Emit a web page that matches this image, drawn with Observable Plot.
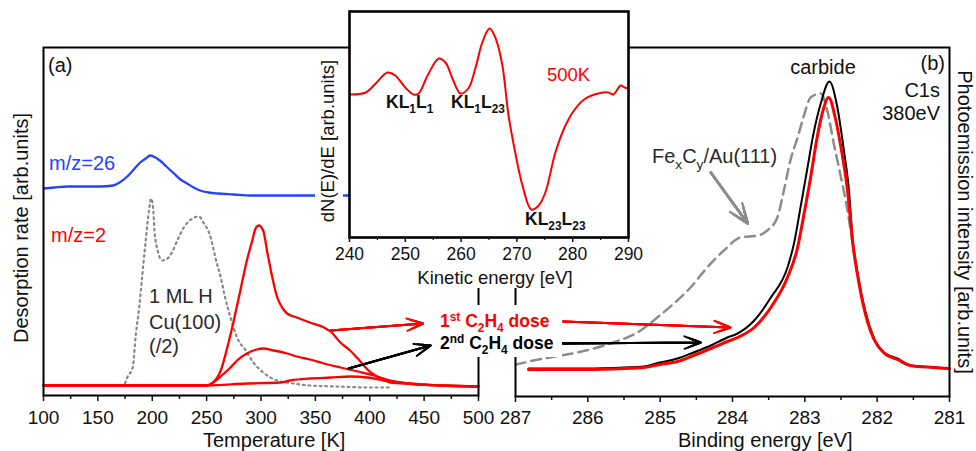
<!DOCTYPE html>
<html><head><meta charset="utf-8">
<script src="https://cdn.jsdelivr.net/npm/d3@7"></script>
<script src="https://cdn.jsdelivr.net/npm/@observablehq/plot@0.6"></script>
<style>
html,body{margin:0;padding:0;background:#fff;}
#chart{position:relative;width:976px;height:451px;overflow:hidden;}
#chart > svg{position:absolute;left:0;top:0;}
</style></head><body><div id="chart"></div>
<script>
// ---------- Panel (a): TDS, temperature [K] vs desorption rate [arb.units]
const m26T = [100,110,122,135,152,164,170,177,183,189,194,198,203,207,213,220,226,232,238,244,252,260,275,290,320,380,440,500];
const m26Rate = [207,208,209,209,209,210,213,219,226,233,237,240,238,235,229,222,216,212,208,205,203,202,201,200,200,200,200,200];
const dose1T = [100,150,200,250,256,263,269,275,281,287,292,295,298,302,306,311,315,320,324,333,345,358,365,373,382,389,401,410,419,435,465,500];
const dose1Rate = [10,10,10,10,13,25,48,75,105,135,155,167,170,165,142,115,98,87,82,78,73,68,63,53,45,37,23,17,13,12,10,9];
const dose2T = [100,150,200,250,256,266,272,278,287,296,302,312,324,333,345,358,373,389,404,419,435,465,500];
const dose2Rate = [10,10,10,10,13,22,28,35,42,46,47,45,42,39,36,32,28,24,20,15,12,10,9];
const dose3T = [100,150,200,250,287,318,327,345,364,382,398,413,435,465,500];
const dose3Rate = [10,10,10,10,12,13,15,17,18,19,18,15,12,10,9];
const hCuT = [175,177,182,185,188,191,194,197,199,201,202,205,209,214,218,223,229,237,243,247,254,258,263,267,272,278,286,293,302,315,330,345,370,400,420];
const hCuRate = [12,18,28,62,88,122,155,185,197,185,165,145,135,137,143,155,168,177,179,173,157,138,118,98,78,58,45,33,23,15,12,10,9,8,8];
const tempMajor = [100,150,200,250,300,350,400,450,500];
const tempMinor = [125,175,225,275,325,375,425,475];

// ---------- Inset: Auger spectrum at 500K
const kinE = [240.2,242.9,244.7,246.8,248.2,250.0,251.5,252.4,254.0,256.0,257.2,258.6,259.9,261.3,262.6,263.8,265.1,266.2,267.4,268.5,269.7,271.0,272.6,273.9,275.1,276.9,278.7,280.5,282.3,284.6,286.4,287.3,288.6,289.3,290.0];
const augerSignal = [143,145,154,165,162,150,143,144,162,179,175,157,144,149,170,195,209,199,172,122,85,52,28,32,45,85,112,129,139,144,145,143,152,150,149];
const kinMajor = [240,250,260,270,280,290];
const kinMinor = [245,255,265,275,285];

// ---------- Panel (b): C1s XPS, binding energy [eV]
const blackE = [286.82,286.5,286.0,285.5,285.23,285.0,284.76,284.54,284.3,284.07,283.93,283.7,283.47,283.24,283.15,283.06,282.97,282.88,282.78,282.66,282.55,282.46,282.39,282.34,282.27,282.2,282.13,282.05,281.91,281.72,281.54,281.22,281.0];
const blackI = [28,28,28,29,30,34,38,44,51,59,63,76,99,129,153,189,226,263,293,315,289,246,206,158,123,96,76,59,44,38,31,29,28];
const redE = [286.82,286.5,286.0,285.5,285.23,285.0,284.76,284.54,284.3,284.07,283.93,283.7,283.47,283.24,283.1,283.02,282.92,282.83,282.76,282.67,282.58,282.5,282.41,282.33,282.27,282.2,282.13,282.05,281.91,281.72,281.54,281.22,281.0];
const redI = [27,27,27,28,29,32,35,41,48,55,59,69,89,119,149,179,219,259,283,299,279,249,206,149,121,94,74,58,44,37,31,29,28];
const fecE = [287.0,286.61,286.15,285.69,285.27,285.04,284.81,284.58,284.35,284.12,283.89,283.65,283.52,283.38,283.29,283.2,283.1,283.02,282.92,282.78,282.69,282.6,282.5,282.41,282.34,282.27,282.2,282.13,282.05,281.91,281.72,281.54,281.22,281.0];
const fecI = [32,38,44,53,66,79,93,109,129,146,159,161,166,179,206,236,259,279,299,303,286,253,219,186,153,121,96,76,59,44,37,31,29,28];
const bindMajor = [287,286,285,284,283,282,281];
const bindMinor = [286.5,285.5,284.5,283.5,282.5,281.5];

// ---------- helpers
const W = 976, H = 451;
const FONT = '"Liberation Sans", Arial, Helvetica, sans-serif';
const RED = "#ff0000", BLUE = "#2442ff", GRAY = "#8c8c8c";
const pts = (xs, ys) => xs.map((x, i) => ({x, y: ys[i]}));
const baseStyle = (fs) => ({background: "transparent", fontFamily: FONT, fontSize: fs, color: "#111", overflow: "visible"});
function filledArrow(data, opts) {
  return [13, 10, 7, 4].map(h => Plot.arrow(data, {x1: "x1", y1: "y1", x2: "x2", y2: "y2", headLength: h, headAngle: 42, strokeLinejoin: "miter", ...opts}));
}

// annotation arrows (data coordinates of each panel)
const leftRedArrow = [{x1: 364, y1: 65, x2: 449, y2: 72}];
const leftBlackArrow = [{x1: 380.5, y1: 27, x2: 456, y2: 50}];
const rightRedArrow = [{x1: 286.34, y1: 75, x2: 284.03, y2: 69}];
const rightBlackArrow = [{x1: 286.38, y1: 53, x2: 284.44, y2: 54}];
const rightGrayArrow = [{x1: 284.30, y1: 224, x2: 283.79, y2: 173}];

const chart = document.getElementById("chart");

// ---------- left panel (a)
const left = Plot.plot({
  width: W, height: H,
  marginLeft: 43, marginRight: W - 478, marginTop: 47, marginBottom: H - 395,
  x: {domain: [100, 500]},
  y: {domain: [0, 348], axis: null},
  style: baseStyle("19px"),
  marks: [
    Plot.line(pts(hCuT, hCuRate), {x: "x", y: "y", stroke: "#888", strokeWidth: 2.2, strokeDasharray: "1.8,3.8", curve: "monotone-x"}),
    Plot.line(pts(m26T, m26Rate), {x: "x", y: "y", stroke: BLUE, strokeWidth: 2.3, curve: "monotone-x"}),
    Plot.line(pts(dose3T, dose3Rate), {x: "x", y: "y", stroke: RED, strokeWidth: 2.3, curve: "monotone-x"}),
    Plot.line(pts(dose2T, dose2Rate), {x: "x", y: "y", stroke: RED, strokeWidth: 2.3, curve: "monotone-x"}),
    Plot.line(pts(dose1T, dose1Rate), {x: "x", y: "y", stroke: RED, strokeWidth: 2.3, curve: "monotone-x"}),
    ...filledArrow(leftRedArrow, {stroke: RED, strokeWidth: 2}),
    ...filledArrow(leftBlackArrow, {stroke: "#000", strokeWidth: 2}),
    Plot.frame({stroke: "#000", strokeWidth: 2}),
    Plot.axisX({ticks: tempMajor, tickSize: 6, tickPadding: 9, tickFormat: d => String(d), label: null, strokeWidth: 1.5}),
    Plot.axisX({ticks: tempMinor, tickSize: 4, tickFormat: () => "", label: null, strokeWidth: 1.5})
  ]
});
chart.appendChild(left);

// ---------- right panel (b)
const right = Plot.plot({
  width: W, height: H,
  marginLeft: 515, marginRight: W - 949, marginTop: 47, marginBottom: H - 396,
  x: {domain: [287, 281]},
  y: {domain: [0, 349], axis: null},
  style: baseStyle("19px"),
  marks: [
    Plot.line(pts(fecE, fecI), {x: "x", y: "y", stroke: GRAY, strokeWidth: 2.5, strokeDasharray: "10,6", curve: "monotone-x"}),
    Plot.line(pts(blackE, blackI), {x: "x", y: "y", stroke: "#000", strokeWidth: 2, curve: "monotone-x"}),
    Plot.line(pts(redE, redI), {x: "x", y: "y", stroke: RED, strokeWidth: 3, curve: "monotone-x"}),
    ...filledArrow(rightRedArrow, {stroke: RED, strokeWidth: 2}),
    ...filledArrow(rightBlackArrow, {stroke: "#000", strokeWidth: 2}),
    ...filledArrow(rightGrayArrow, {stroke: GRAY, strokeWidth: 2.5}),
    Plot.frame({stroke: "#000", strokeWidth: 2}),
    Plot.axisX({ticks: bindMajor, tickSize: 6, tickPadding: 8, tickFormat: d => String(d), label: null, strokeWidth: 1.5}),
    Plot.axisX({ticks: bindMinor, tickSize: 4, tickFormat: () => "", label: null, strokeWidth: 1.5})
  ]
});
chart.appendChild(right);

// ---------- white boxes behind labels (under the inset)
const under = d3.create("svg").attr("width", W).attr("height", H);
[[436, 305, 126, 52], [335, 238, 305, 50], [315, 55, 28, 177]].forEach(([x, y, w, h]) =>
  under.append("rect").attr("x", x).attr("y", y).attr("width", w).attr("height", h).attr("fill", "#fff"));
chart.appendChild(under.node());

// ---------- inset
const inset = Plot.plot({
  width: W, height: H,
  marginLeft: 349, marginRight: W - 628, marginTop: 11, marginBottom: H - 237,
  x: {domain: [240, 290]},
  y: {domain: [0, 226], axis: null},
  style: baseStyle("17.5px"),
  marks: [
    Plot.frame({fill: "#fff"}),
    Plot.line(pts(kinE, augerSignal), {x: "x", y: "y", stroke: RED, strokeWidth: 2, curve: "catmull-rom"}),
    Plot.frame({stroke: "#000", strokeWidth: 2.6}),
    Plot.axisX({ticks: kinMajor, tickSize: 5, tickPadding: 5, tickFormat: d => String(d), label: null, strokeWidth: 1.5}),
    Plot.axisX({ticks: kinMinor, tickSize: 3, tickFormat: () => "", label: null, strokeWidth: 1.2})
  ]
});
chart.appendChild(inset);

// ---------- text overlay
const over = d3.create("svg").attr("width", W).attr("height", H)
  .style("font-family", FONT);
function rich(x, y, segs, {size = 20, weight = "normal", fill = "#111", anchor = "start", transform = null} = {}) {
  const t = over.append("text").attr("x", x).attr("y", y).attr("font-size", size)
    .attr("font-weight", weight).attr("fill", fill).attr("text-anchor", anchor);
  if (transform) t.attr("transform", transform);
  let shift = 0;
  for (const seg of segs) {
    const [s, k] = Array.isArray(seg) ? seg : [seg, null];
    const target = k === "sub" ? size * 0.28 : k === "sup" ? -size * 0.36 : 0;
    t.append("tspan").attr("dy", target - shift).attr("font-size", k ? size * 0.68 : size).text(s);
    shift = target;
  }
  return t;
}
rich(48, 72, ["(a)"]);
rich(945, 70, ["(b)"], {anchor: "end"});
rich(49, 170, ["m/z=26"], {fill: BLUE});
rich(51, 242, ["m/z=2"], {fill: RED});
rich(149, 303, ["1 ML H"], {fill: "#2a2a2a"});
rich(149, 329, ["Cu(100)"], {fill: "#2a2a2a"});
rich(149, 353, ["(/2)"], {fill: "#2a2a2a"});
rich(440, 327, ["1", ["st", "sup"], " C", ["2", "sub"], "H", ["4", "sub"], " dose"], {size: 17.5, weight: "bold", fill: RED});
rich(440, 349, ["2", ["nd", "sup"], " C", ["2", "sub"], "H", ["4", "sub"], " dose"], {size: 17.5, weight: "bold", fill: "#000"});
rich(386, 108, ["KL", ["1", "sub"], "L", ["1", "sub"]], {size: 17.5, weight: "bold", fill: "#111"});
rich(451, 108, ["KL", ["1", "sub"], "L", ["23", "sub"]], {size: 17.5, weight: "bold", fill: "#111"});
rich(525, 225, ["KL", ["23", "sub"], "L", ["23", "sub"]], {size: 17.5, weight: "bold", fill: "#111"});
rich(547, 81, ["500K"], {size: 18.5, fill: RED});
rich(823, 74, ["carbide"], {anchor: "middle"});
rich(940, 97, ["C1s"], {anchor: "end"});
rich(940, 120, ["380eV"], {anchor: "end"});
rich(652, 163, ["Fe", ["x", "sub"], "C", ["y", "sub"], "/Au(111)"], {fill: "#2a2a2a"});
rich(495, 284, ["Kinetic energy [eV]"], {size: 18.5, anchor: "middle"});
rich(203, 447, ["Temperature [K]"]);
rich(678, 447, ["Binding energy [eV]"]);
rich(0, 0, ["Desorption rate [arb.units]"], {anchor: "middle", transform: "translate(28,228) rotate(-90)"});
rich(0, 0, ["dN(E)/dE [arb.units]"], {size: 18.5, anchor: "middle", transform: "translate(334,141) rotate(-90)"});
rich(0, 0, ["Photoemission intensity [arb.units]"], {anchor: "middle", transform: "translate(958,222) rotate(90)"});
chart.appendChild(over.node());
</script></body></html>
